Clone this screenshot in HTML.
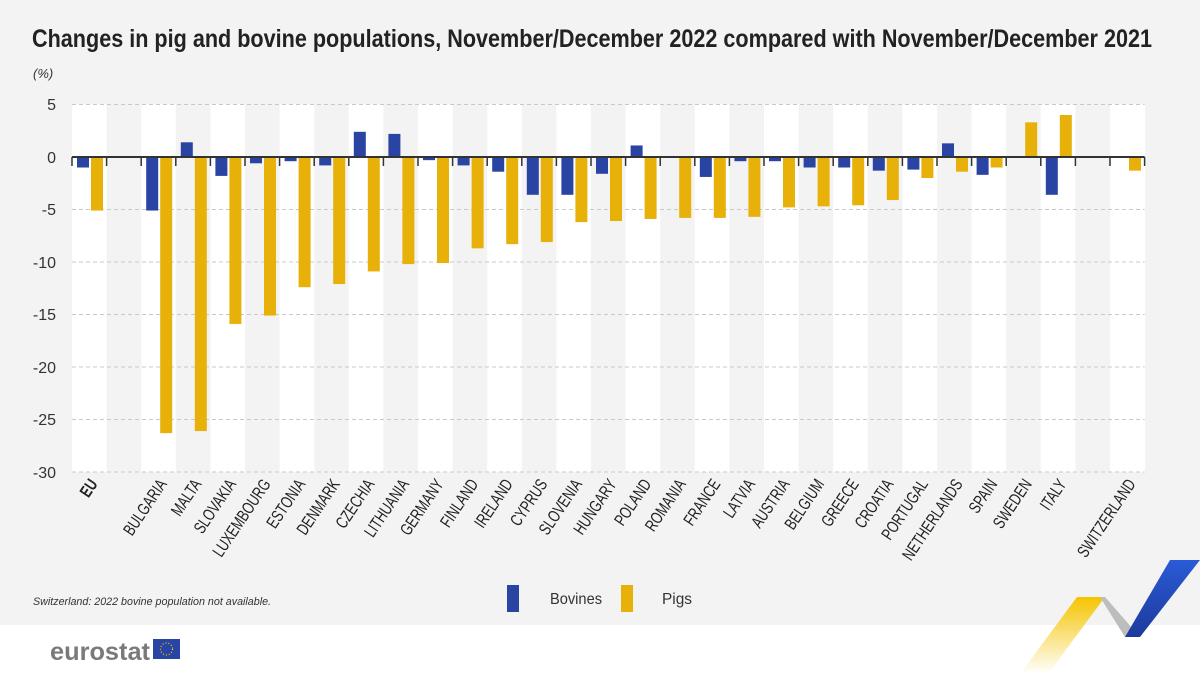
<!DOCTYPE html>
<html><head><meta charset="utf-8"><style>body{margin:0;background:#fff}svg{display:block}text{font-family:"Liberation Sans",sans-serif}</style></head><body>
<svg width="1200" height="674" viewBox="0 0 1200 674" xmlns="http://www.w3.org/2000/svg">
<rect x="0" y="0" width="1200" height="625" fill="#f3f3f3"/>
<text x="32" y="47" font-size="25" font-weight="bold" fill="#222" textLength="1120" lengthAdjust="spacingAndGlyphs">Changes in pig and bovine populations, November/December 2022 compared with November/December 2021</text>
<text x="33" y="78" font-size="13" font-style="italic" fill="#333">(%)</text>
<g id="bands"></g>
<g id="grid" stroke="#c8c8c8" stroke-dasharray="4,3" stroke-width="1"></g>
<g id="bars"></g>
<g id="axis"></g>
<g id="labels" font-size="17" fill="#222"></g>
<g font-size="16" fill="#333" text-anchor="end">
<text x="56" y="110">5</text><text x="56" y="163">0</text><text x="56" y="215">-5</text><text x="56" y="268">-10</text><text x="56" y="320">-15</text><text x="56" y="373">-20</text><text x="56" y="425">-25</text><text x="56" y="478">-30</text>
</g>
<text x="33" y="605" font-size="11" font-style="italic" fill="#333" textLength="238" lengthAdjust="spacingAndGlyphs">Switzerland: 2022 bovine population not available.</text>
<rect x="507" y="585" width="12" height="27" fill="#2a44a4"/>
<text x="550" y="604" font-size="16" fill="#333" textLength="52" lengthAdjust="spacingAndGlyphs">Bovines</text>
<rect x="621" y="585" width="12" height="27" fill="#e8b10a"/>
<text x="662" y="604" font-size="16" fill="#333" textLength="30" lengthAdjust="spacingAndGlyphs">Pigs</text>
<text x="50" y="660" font-size="25" font-weight="bold" fill="#7a7a7a" textLength="100" lengthAdjust="spacingAndGlyphs">eurostat</text>
<rect x="153" y="639" width="27" height="20" fill="#2a44a4"/>
<circle cx="166.5" cy="649" r="6" fill="none" stroke="#f5d000" stroke-width="1.2" stroke-dasharray="1,2"/>
<defs><linearGradient id="gy" x1="0" y1="1" x2="0" y2="0"><stop offset="0" stop-color="#fff"/><stop offset="1" stop-color="#f5c400"/></linearGradient>
<linearGradient id="gb" x1="0" y1="1" x2="0" y2="0"><stop offset="0" stop-color="#1c3a9c"/><stop offset="1" stop-color="#2a5bd6"/></linearGradient></defs>
<polygon points="1020,674 1077,597 1105,597 1048,674" fill="url(#gy)"/>
<polygon points="1100,597 1105,597 1140,637 1125,637" fill="#bdbdbd"/>
<polygon points="1125,637 1170,560 1200,560 1140,637" fill="url(#gb)"/>
</svg>
<script>
const ns="http://www.w3.org/2000/svg";
function el(p,t,a,txt){const e=document.createElementNS(ns,t);for(const k in a)e.setAttribute(k,a[k]);if(txt)e.textContent=txt;document.getElementById(p).appendChild(e);}
const d=[["EU",-1,-5.1],null,["BULGARIA",-5.1,-26.3],["MALTA",1.4,-26.1],["SLOVAKIA",-1.8,-15.9],["LUXEMBOURG",-0.6,-15.1],["ESTONIA",-0.4,-12.4],["DENMARK",-0.8,-12.1],["CZECHIA",2.4,-10.9],["LITHUANIA",2.2,-10.2],["GERMANY",-0.3,-10.1],["FINLAND",-0.8,-8.7],["IRELAND",-1.4,-8.3],["CYPRUS",-3.6,-8.1],["SLOVENIA",-3.6,-6.2],["HUNGARY",-1.6,-6.1],["POLAND",1.1,-5.9],["ROMANIA",0,-5.8],["FRANCE",-1.9,-5.8],["LATVIA",-0.4,-5.7],["AUSTRIA",-0.4,-4.8],["BELGIUM",-1.0,-4.7],["GREECE",-1.0,-4.6],["CROATIA",-1.3,-4.1],["PORTUGAL",-1.2,-2.0],["NETHERLANDS",1.3,-1.4],["SPAIN",-1.7,-1.0],["SWEDEN",0,3.3],["ITALY",-3.6,4.0],null,["SWITZERLAND",null,-1.3]];
const x0=72,w=34.6,z=157,k=10.5;
d.forEach((c,i)=>{const l=x0+i*w;
 el("bands","rect",{x:l,y:104,width:w+0.5,height:368,fill:i%2?"#f3f3f3":"#ffffff"});
 if(!c)return;
 const b=(v,x,f)=>{if(v===null||v===0)return;const y=v>0?z-v*k:z;el("bars","rect",{x:x,y:y,width:12,height:Math.abs(v)*k,fill:f});};
 b(c[1],l+5,"#2a44a4");b(c[2],l+19,"#e8b10a");
 const cx=l+w/2+9, cy=484;
 el("labels","text",{x:0,y:0,"text-anchor":"end",transform:`translate(${cx} ${cy}) rotate(-56) scale(0.74 1)`,"font-weight":c[0]=="EU"?"bold":"normal"},c[0]);
});
for(let v=5;v>=-30;v-=5){if(v!==0)el("grid","line",{x1:x0,x2:x0+31*w,y1:z-v*k,y2:z-v*k});}
el("axis","line",{x1:x0,x2:x0+31*w,y1:z,y2:z,stroke:"#333","stroke-width":2});
for(let i=0;i<=31;i++)el("axis","line",{x1:x0+i*w,x2:x0+i*w,y1:z,y2:z+9,stroke:"#333","stroke-width":1.5});
</script>
</body></html>
